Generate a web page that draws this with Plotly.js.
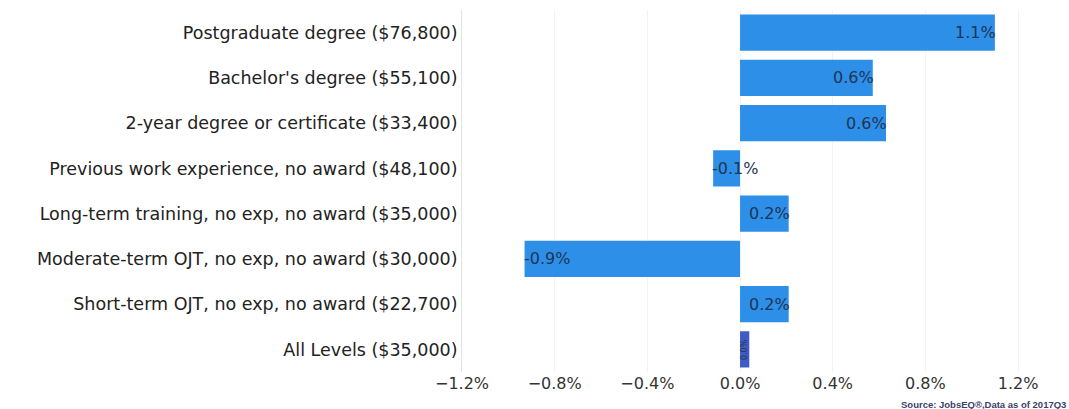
<!DOCTYPE html>
<html>
<head>
<meta charset="utf-8">
<script src="https://cdn.plot.ly/plotly-3.0.1.min.js"></script>
<style>html,body{margin:0;padding:0;background:#fff;}#chart{width:1069px;height:409px;}</style>
</head>
<body>
<div id="chart"></div>
<script>
const categories = [
  "Postgraduate degree ($76,800)",
  "Bachelor's degree ($55,100)",
  "2-year degree or certificate ($33,400)",
  "Previous work experience, no award ($48,100)",
  "Long-term training, no exp, no award ($35,000)",
  "Moderate-term OJT, no exp, no award ($30,000)",
  "Short-term OJT, no exp, no award ($22,700)",
  "All Levels ($35,000)"
];
const values = [1.10, 0.573, 0.63, -0.116, 0.21, -0.93, 0.21, 0.04];
const labels = ["1.1%", "0.6%", "0.6%", "-0.1%", "0.2%", "-0.9%", "0.2%", "0.0%"];
const barColors = ["#2d8fe8","#2d8fe8","#2d8fe8","#2d8fe8","#2d8fe8","#2d8fe8","#2d8fe8","#3f5cc6"];
const tickVals = [-1.2, -0.8, -0.4, 0, 0.4, 0.8, 1.2];
const tickText = ["\u22121.2%", "\u22120.8%", "\u22120.4%", "0.0%", "0.4%", "0.8%", "1.2%"];

const trace = {
  type: 'bar',
  orientation: 'h',
  x: values,
  y: categories,
  marker: {color: barColors},
  width: 0.8,
  hoverinfo: 'none'
};

const annotations = values.map((v, i) => {
  const last = i === values.length - 1;
  if (last) {
    return {x: v / 2, y: categories[i], xref: 'x', yref: 'y', text: labels[i], showarrow: false,
      textangle: -90, font: {family: 'DejaVu Sans', size: 8, color: '#26324f'}, xanchor: 'center', yanchor: 'middle'};
  }
  return {
    x: v, y: categories[i], xref: 'x', yref: 'y', text: labels[i], showarrow: false,
    xanchor: v >= 0 ? 'right' : 'left', yanchor: 'middle', xshift: v >= 0 ? 3 : -3,
    font: {family: 'DejaVu Sans', size: 16, color: '#1f3556'}
  };
});
annotations.push({
  xref: 'paper', yref: 'paper', x: 1.008, y: -0.11, xanchor: 'right', yanchor: 'bottom',
  text: '<b>Source: JobsEQ\u00ae,Data as of 2017Q3</b>', showarrow: false,
  font: {family: 'Liberation Sans, sans-serif', size: 9.5, color: '#3a3f6a'}
});

const layout = {
  width: 1069, height: 409,
  margin: {l: 462, r: 6, t: 10, b: 37},
  paper_bgcolor: '#fff', plot_bgcolor: '#fff',
  showlegend: false,
  xaxis: {
    range: [-1.2, 1.394], tickvals: tickVals, ticktext: tickText,
    showgrid: true, gridcolor: '#f3f3f3', zeroline: false, showline: false, ticks: '',
    tickfont: {family: 'DejaVu Sans', size: 16, color: '#333'}
  },
  yaxis: {
    type: 'category', autorange: 'reversed', showgrid: false, zeroline: false,
    showline: true, linecolor: '#e2e2e2', ticks: '', ticklabelstandoff: 0,
    tickfont: {family: 'DejaVu Sans', size: 17.5, color: '#222'}
  },
  bargap: 0.18,
  annotations: annotations
};

Plotly.newPlot('chart', [trace], layout, {staticPlot: true, displayModeBar: false});
</script>
</body>
</html>
